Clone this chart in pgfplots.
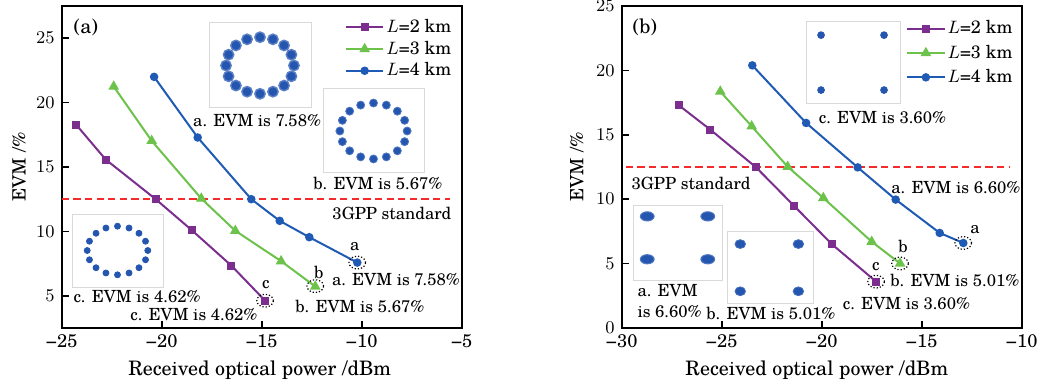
\documentclass[border=0pt]{standalone}
\usepackage{fontspec}
\setmainfont{TeX Gyre Schola}
\usepackage{pgfplots}
\pgfplotsset{compat=1.18}
\usepackage{pgfplotstable}

\definecolor{cpur}{HTML}{7B2E8E}
\definecolor{cgrn}{HTML}{6CC24A}
\definecolor{cblu}{HTML}{1F5BB5}
\definecolor{cred}{HTML}{F52A2A}
\definecolor{cdot}{HTML}{2456B0}

% panel (a)
\pgfplotstableread{
x y
-24.27 18.27
-22.80 15.58
-20.30 12.50
-18.50 10.10
-16.52 7.35
-14.83 4.62
}\atwo
\pgfplotstableread{
x y
-22.40 21.25
-20.50 17.03
-18.02 12.55
-16.32 10.05
-14.03 7.69
-12.32 5.72
}\athree
\pgfplotstableread{
x y
-20.38 22.00
-18.20 17.29
-15.52 12.50
-14.10 10.82
-12.62 9.55
-10.22 7.58
}\afour
% panel (b)
\pgfplotstableread{
x y
-27.15 17.30
-25.57 15.40
-23.28 12.47
-21.38 9.48
-19.48 6.49
-17.28 3.60
}\btwo
\pgfplotstableread{
x y
-25.07 18.36
-23.50 15.66
-21.70 12.52
-19.92 10.10
-17.50 6.70
-16.08 5.01
}\bthree
\pgfplotstableread{
x y
-23.47 20.39
-20.78 15.92
-18.20 12.47
-16.30 9.97
-14.10 7.38
-12.92 6.60
}\bfour
% 16-point ring constellation (relative inset coordinates)
\pgfplotstableread{
x y
0.833 0.500
0.808 0.627
0.736 0.736
0.627 0.808
0.500 0.833
0.373 0.808
0.264 0.736
0.192 0.627
0.167 0.500
0.192 0.373
0.264 0.264
0.373 0.192
0.500 0.167
0.627 0.192
0.736 0.264
0.808 0.373
}\ringpts

\tikzset{ann/.style={font=\fontsize{8.4}{10}\selectfont, inner sep=0pt}}

\pgfplotsset{
  main/.style={
    scale only axis, width=200bp, height=161bp, anchor=south west, clip=false,
    axis line style={line width=0.9bp},
    tick align=inside, tick pos=left, major tick length=3.5bp,
    tick style={line width=0.8bp, black},
    ticklabel style={font=\fontsize{9.2}{10}\selectfont},
    xlabel style={font=\fontsize{10}{12}\selectfont},
    ylabel style={font=\fontsize{9.2}{11}\selectfont},
    legend cell align=left,
    legend style={draw=none, fill=none, font=\fontsize{9}{10}\selectfont,
      anchor=north east, inner sep=0pt,
      nodes={inner sep=1pt, text height=6.5bp, text depth=1.5bp}},
    legend image code/.code={\draw[mark repeat=2,mark phase=2,##1]
      plot coordinates {(0bp,0bp) (9.35bp,0bp) (18.7bp,0bp)};},
  },
  s2/.style={cpur, line width=1bp, mark=square*, mark size=1.5bp, mark options={solid}},
  s3/.style={cgrn, line width=1bp, mark=triangle*, mark size=2.1bp, mark options={solid}},
  s4/.style={cblu, line width=1bp, mark=*, mark size=1.6bp, mark options={solid}},
  ring/.style={only marks, draw=black, line width=0.6bp, mark=o,
    mark size=3.2bp, mark options={xscale=1.3, densely dotted, black}},
  stdline/.style={cred, line width=1bp, dash pattern=on 3.6bp off 2.2bp},
  inset/.style={scale only axis, anchor=south west, xmin=0, xmax=1, ymin=0, ymax=1,
    ticks=none, axis line style={black!15, line width=0.5bp},
    axis background/.style={fill=white}},
}

\begin{document}
\begin{tikzpicture}
\useasboundingbox (-30.85bp,-30bp) rectangle (489.15bp,164bp);

% ---------------- panel (a)
\begin{axis}[main, at={(0bp,0bp)},
  xmin=-25, xmax=-5, ymin=2.5, ymax=27.5,
  xtick={-25,-20,-15,-10,-5}, xticklabels={−25,−20,−15,−10,−5},
  ytick={5,10,15,20,25},
  xlabel={Received optical power /dBm},
  ylabel={EVM /\%},
  xlabel style={at={(axis description cs:0.495,0)}, anchor=center, yshift=-21bp},
  ylabel style={at={(axis description cs:-0.107,0.5)}, anchor=center},
  legend style={at={(1,1)}, xshift=-4bp, yshift=-5.5bp, row sep=0.85bp},
]
\addplot[s2] table {\atwo};
\addlegendentry{$L$=2 km}
\addplot[s3] table {\athree};
\addlegendentry{$L$=3 km}
\addplot[s4] table {\afour};
\addlegendentry{$L$=4 km}
\addplot[stdline, forget plot] coordinates {(-25,12.5) (-5.6,12.5)};
\addplot[ring, forget plot] coordinates {(-10.22,7.58) (-12.32,5.75) (-14.83,4.62)};

\node[font=\fontsize{10}{12}\selectfont] at (axis cs:-23.79,25.85) {(a)};
\node[ann] at (axis cs:-15.23,18.63) {a. EVM is 7.58\%};
\node[ann] at (axis cs:-9.19,13.74) {b. EVM is 5.67\%};
\node[ann] at (axis cs:-21.23,4.97) {c. EVM is 4.62\%};
\node[ann] at (axis cs:-8.49,11.41) {3GPP standard};
\node[ann] at (axis cs:-10.34,8.85) {a};
\node[ann] at (axis cs:-12.14,6.83) {b};
\node[ann] at (axis cs:-14.79,5.90) {c};
\node[ann] at (axis cs:-8.29,6.29) {a. EVM is 7.58\%};
\node[ann] at (axis cs:-10.09,4.19) {b. EVM is 5.67\%};
\node[ann] at (axis cs:-18.39,3.57) {c. EVM is 4.62\%};
\end{axis}

% insets of panel (a)
\begin{axis}[inset, at={(73.65bp,110bp)}, width=51bp, height=42.5bp]
\addplot[only marks, mark=*, mark size=2.6bp, mark options={fill=cdot, draw=cdot!75, line width=0.7bp}] table {\ringpts};
\end{axis}
\begin{axis}[inset, at={(130.65bp,77.5bp)}, width=50.5bp, height=42bp]
\addplot[only marks, mark=*, mark size=2.0bp, mark options={fill=cdot, draw=cdot!80, line width=0.4bp}] table {\ringpts};
\end{axis}
\begin{axis}[inset, at={(5.15bp,20.5bp)}, width=45.5bp, height=36.5bp]
\addplot[only marks, mark=*, mark size=1.5bp, mark options={fill=cdot, draw=cdot}] table {\ringpts};
\end{axis}

% ---------------- panel (b)
\begin{axis}[main, at={(280bp,0bp)},
  xmin=-30, xmax=-10, ymin=0, ymax=25,
  xtick={-30,-25,-20,-15,-10}, xticklabels={−30,−25,−20,−15,−10},
  ytick={0,5,10,15,20,25},
  xlabel={Received optical power /dBm},
  ylabel={EVM /\%},
  xlabel style={at={(axis description cs:0.488,0)}, anchor=center, yshift=-21bp},
  ylabel style={at={(axis description cs:-0.1125,0.5)}, anchor=center},
  legend style={at={(1,1)}, xshift=-3.4bp, yshift=-6.2bp, row sep=2.15bp},
]
\addplot[s2] table {\btwo};
\addlegendentry{$L$=2 km}
\addplot[s3] table {\bthree};
\addlegendentry{$L$=3 km}
\addplot[s4] table {\bfour};
\addlegendentry{$L$=4 km}
\addplot[stdline, forget plot] coordinates {(-29.8,12.5) (-10.6,12.5)};
\addplot[ring, forget plot] coordinates {(-12.92,6.60) (-16.08,5.01) (-17.28,3.60)};

\node[font=\fontsize{10}{12}\selectfont] at (axis cs:-28.84,23.37) {(b)};
\node[ann] at (axis cs:-16.96,16.36) {c. EVM is 3.60\%};
\node[ann] at (axis cs:-13.29,10.92) {a. EVM is 6.60\%};
\node[ann] at (axis cs:-26.53,11.23) {3GPP standard};
\node[ann, anchor=west, align=left] at (axis cs:-29.23,2.09) {a. EVM\\[1pt]is 6.60\%};
\node[ann] at (axis cs:-22.54,1.11) {b. EVM is 5.01\%};
\node[ann] at (axis cs:-12.33,7.65) {a};
\node[ann] at (axis cs:-15.93,6.33) {b};
\node[ann] at (axis cs:-17.29,4.77) {c};
\node[ann] at (axis cs:-13.34,3.68) {b. EVM is 5.01\%};
\node[ann] at (axis cs:-15.76,1.89) {c. EVM is 3.60\%};
\end{axis}

% insets of panel (b)
\begin{axis}[inset, at={(372.15bp,112bp)}, width=47bp, height=41bp]
\addplot[only marks, mark=*, mark size=1.7bp, mark options={fill=cdot, draw=cdot}] coordinates {(0.16,0.84) (0.83,0.84) (0.16,0.17) (0.83,0.17)};
\end{axis}
\begin{axis}[inset, at={(285.65bp,24bp)}, width=44.5bp, height=37bp]
\addplot[only marks, mark=*, mark size=2.3bp, mark options={xscale=1.5, fill=cdot, draw=cdot!80, line width=0.5bp}] coordinates {(0.16,0.86) (0.84,0.86) (0.16,0.28) (0.84,0.28)};
\end{axis}
\begin{axis}[inset, at={(332.65bp,12.5bp)}, width=43bp, height=35.5bp]
\addplot[only marks, mark=*, mark size=2.2bp, mark options={xscale=1.2, fill=cdot, draw=cdot!85, line width=0.4bp}] coordinates {(0.154,0.83) (0.83,0.83) (0.154,0.165) (0.83,0.165)};
\end{axis}
\end{tikzpicture}
\end{document}
